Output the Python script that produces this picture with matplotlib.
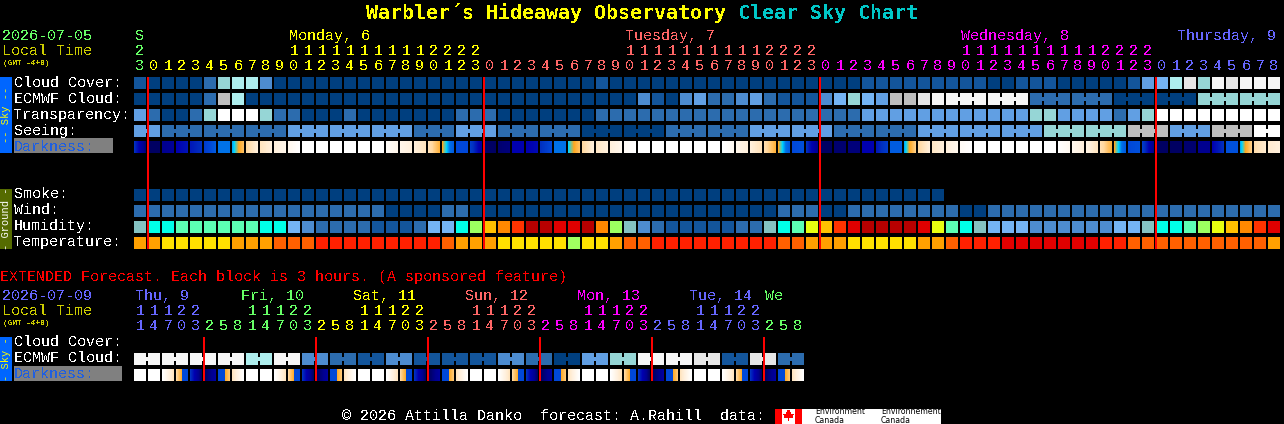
import numpy as np
import matplotlib
matplotlib.use("Agg")
import matplotlib.pyplot as plt
from matplotlib.colors import LinearSegmentedColormap

# colour levels shared by the sky rows, humidity continues the list
levels = ["#003F7F", "#13559B", "#2C6CAE", "#4D8CD0", "#619FE3", "#74B4F4", "#96D6D6", "#AEEEEE",
          "#BEBEBE", "#E6E6E6", "#F6F6F6", "#FFFFFF",
          "#84C2C2", "#00FFE8", "#5CFFB4", "#9CFF60", "#E8FF10", "#FFC000", "#FF8800", "#FF3300",
          "#E00000", "#B80000"]
temp_levels = ["#A0FF60", "#FFE000", "#FFA000", "#FF6000", "#FF2000", "#E00000"]

cloud_cover = [1,0,0,0,0,2,6,7,7,3,
               0,0,0,0,0,0,0,0,0,0,
               0,0,0,0,0,0,0,0,0,0,
               0,0,0,1,0,0,0,0,0,0,
               0,0,0,0,0,0,0,0,0,0,
               0,0,1,1,1,1,1,1,1,1,
               1,0,0,1,1,1,0,0,0,0,
               0,1,4,5,7,9,6,10,9,10,
               10,10]
ecmwf_cloud = [0,0,0,0,0,2,8,7,0,0,
               0,0,0,0,0,0,0,0,0,0,
               0,0,0,0,0,0,0,0,0,0,
               0,0,0,0,0,0,3,1,0,3,
               4,2,2,3,4,2,1,1,1,3,
               5,6,5,4,8,8,9,10,10,10,
               10,10,10,10,2,2,2,2,2,2,
               0,0,0,0,0,0,6,6,6,6,
               6,6]
transparency = [4,2,0,0,2,6,11,11,11,6,
                2,2,0,0,0,2,0,0,0,0,
                0,0,0,2,2,2,0,0,0,0,
                0,0,0,2,2,2,2,2,2,2,
                2,2,2,2,2,2,2,2,2,2,
                2,2,4,4,4,4,4,4,4,4,
                4,4,4,4,6,6,4,4,4,4,
                2,4,6,11,11,11,11,11,11,11,
                11,11]
seeing = [4,4,2,2,2,2,2,2,2,2,
          2,4,4,4,4,4,4,4,4,4,
          2,2,2,4,4,4,2,2,2,2,
          2,2,0,0,0,0,0,0,2,2,
          2,2,2,2,4,4,4,4,4,4,
          2,2,2,2,2,2,4,4,4,4,
          4,4,4,4,4,6,6,6,6,6,
          6,8,8,8,4,4,4,8,8,8,
          11,11]
dark_left = [3.0,0.3,1.0,2.0,2.5,3.5,5.0,5.3,7.0,7.5,
             8.0,8.5,9.0,9.0,9.0,9.0,9.0,9.0,8.8,8.4,
             8.0,7.4,6.0,4.0,3.5,0.4,0.5,2.0,2.0,3.0,
             5.0,5.5,7.0,7.6,8.0,8.7,9.0,9.0,9.0,9.0,
             9.0,9.0,9.0,8.4,8.0,7.2,6.0,4.0,3.0,0.3,
             0.5,0.7,2.0,2.5,4.5,5.3,7.0,7.6,8.0,8.7,
             9.0,9.0,9.0,9.0,9.0,9.0,9.0,8.5,8.2,7.3,
             6.0,4.0,3.5,0.3,0.3,0.5,1.0,2.0,4.2,5.3,
             7.2,7.8]
dark_right = [0.6,0.3,1.2,2.4,3.0,4.5,5.0,6.5,8.0,8.0,
              8.4,9.0,9.0,9.0,9.0,9.0,9.0,9.0,8.4,8.0,
              7.5,6.2,4.5,4.0,1.5,0.3,0.7,2.0,2.2,4.0,
              5.0,6.5,8.0,8.0,8.5,9.0,9.0,9.0,9.0,9.0,
              9.0,9.0,8.6,8.0,7.4,6.2,4.5,4.2,1.0,0.3,
              0.5,0.7,2.0,3.5,4.5,6.8,8.0,8.0,8.5,9.0,
              9.0,9.0,9.0,9.0,9.0,9.0,8.6,8.0,7.5,6.2,
              4.5,4.2,1.0,0.3,0.3,0.5,1.0,3.0,4.2,6.8,
              7.8,8.0]
smoke = [0,0,0,0,0,0,0,0,0,0,
         0,0,0,0,0,0,0,0,0,0,
         0,0,0,0,0,0,0,0,0,0,
         0,0,0,0,0,0,0,0,0,0,
         0,0,0,0,0,0,0,0,0,0,
         0,0,0,0,0,0,0,0]
wind = [2,2,2,2,2,2,2,2,2,2,
        2,2,2,2,2,2,2,2,0,0,
        0,0,2,2,0,0,0,0,0,0,
        0,0,0,0,0,0,0,0,0,0,
        0,0,0,0,0,0,2,2,2,0,
        0,2,2,2,2,2,2,2,2,0,
        0,2,2,2,2,2,2,2,2,2,
        2,2,2,2,2,2,2,2,2,2,
        2,2]
humidity = [12,13,13,14,14,14,14,14,14,13,
            13,5,3,2,2,2,2,1,1,1,
            2,5,5,13,15,17,18,19,21,21,
            20,20,21,18,15,12,3,2,1,1,
            1,1,1,2,2,12,13,14,16,17,
            19,20,21,21,21,21,20,16,14,13,
            12,5,5,5,3,3,3,3,3,3,
            5,5,12,13,13,14,15,16,17,18,
            19,20]
temperature = [2,2,1,1,1,1,1,2,2,2,
               3,3,3,4,4,4,4,4,4,4,
               4,4,3,2,2,2,1,1,1,1,
               1,0,1,1,2,3,3,4,4,4,
               4,4,4,4,4,4,3,3,2,2,
               2,1,1,1,1,1,2,2,3,4,
               4,4,5,5,5,5,5,5,5,4,
               4,3,3,3,3,3,3,3,3,3,
               3,2]

hours = [23] + list(range(24)) * 3 + list(range(9))
hour_colors = ["#66FF66"] + ["#FFFF00"] * 24 + ["#FF6666"] * 24 + ["#FF00FF"] * 24 + ["#6666FF"] * 9
day_labels = ["S", "Monday, 6", "Tuesday, 7", "Wednesday, 8", "Thursday, 9"]
day_x = [135, 289, 625, 961, 1177]
day_colors = ["#66FF66", "#FFFF00", "#FF6666", "#FF00FF", "#6666FF"]
midnights = [1, 25, 49, 73]

ext_ecmwf = [10,10,10,10,10,10,10,10,7,7,10,10,3,3,2,2,1,1,3,3,1,1,1,1,
             1,1,3,3,2,2,0,0,4,4,6,6,10,10,10,10,9,9,1,1,9,9,2,2]
ext_dark_left = [9,9,9,7,3,.2,4,7.5, 9,9,9,7,3,.2,4,7.5, 9,9,9,7,3,.2,4,7.5,
                 9,9,9,7,3,.2,4,7.5, 9,9,9,7,3,.2,4,7.5, 9,9,9,7,3,.2,4,7.5]
ext_dark_right = [9,9,7.5,4,.3,1.5,6.5,9, 9,9,7.5,4,.3,1.5,6.5,9, 9,9,7.5,4,.3,1.5,6.5,9,
                  9,9,7.5,4,.3,1.5,6.5,9, 9,9,7.5,4,.3,1.5,6.5,9, 9,9,7.5,4,.3,1.5,6.5,9]
ext_hours = [11,14,17,20,23,2,5,8] * 6
ext_hour_colors = (["#6666FF"] * 5 + ["#66FF66"] * 8 + ["#FFFF00"] * 8 + ["#FF6666"] * 8
                   + ["#FF00FF"] * 8 + ["#6666FF"] * 8 + ["#66FF66"] * 3)
ext_day_labels = ["Thu, 9", "Fri, 10", "Sat, 11", "Sun, 12", "Mon, 13", "Tue, 14", "We"]
ext_day_x = [135, 241, 353, 465, 577, 689, 765]
ext_day_colors = ["#6666FF", "#66FF66", "#FFFF00", "#FF6666", "#FF00FF", "#6666FF", "#66FF66"]
ext_midnights = [5, 13, 21, 29, 37, 45]

x0 = 134
pitch = 14
block = 12

dark_cmap = LinearSegmentedColormap.from_list("darkness", [
    (0 / 9, "#000050"), (1 / 9, "#000090"), (2 / 9, "#0000B0"), (3 / 9, "#0030C0"), (4 / 9, "#0048D8"),
    (5 / 9, "#0070E8"), (5.5 / 9, "#00D8FF"), (6 / 9, "#FFA820"), (7 / 9, "#FFD8A0"), (8 / 9, "#FFF0DC"),
    (9 / 9, "#FFFFFF")])
# extended blocks go straight from blue to orange
ext_cmap = LinearSegmentedColormap.from_list("darkness_ext", [
    (0 / 9, "#000050"), (1 / 9, "#000090"), (2 / 9, "#0000B0"), (3 / 9, "#0030C0"), (4 / 9, "#0048D8"),
    (5.5 / 9, "#0048D8"), (5.5 / 9, "#FFA820"), (7 / 9, "#FFD8A0"), (8 / 9, "#FFF0DC"),
    (9 / 9, "#FFFFFF")])

fig = plt.figure(figsize=(12.84, 4.24), dpi=100, facecolor="black")
ax = fig.add_axes([0, 0, 1, 1])
ax.set_facecolor("black")


def label(x, y, s, color="white", size=10.8, family="Liberation Mono", **kw):
    ax.text(x, y, s, color=color, fontsize=size, family=family, va="baseline",
            antialiased=False, **kw)


def row(values, y, colors=levels, group=None, group_from=0, group_off=0):
    xs = x0 + pitch * np.arange(len(values))
    ax.bar(xs, block, block, y, align="edge", color=[colors[v] for v in values], antialiased=False)
    if group:
        # joined blocks, small tab between them
        for i in range(group_from, len(values) - 1):
            if (i - group_off) % group != group - 1 and values[i] == values[i + 1]:
                ax.bar(xs[i] + block, 4, pitch - block, y + 4, align="edge", color=colors[values[i]],
                       antialiased=False)


def dark_row(left, right, y, cmap=dark_cmap):
    for i in range(len(left)):
        grad = np.linspace(left[i], right[i], block).reshape(1, -1)
        x = x0 + pitch * i
        ax.imshow(grad, extent=(x, x + block, y + block, y), cmap=cmap, vmin=0, vmax=9,
                  aspect="auto", interpolation="nearest", zorder=2)


def hour_labels(hrs, cols, y_tens, y_ones):
    for i, h in enumerate(hrs):
        x = x0 + pitch * i + 6
        if h >= 10:
            label(x, y_tens, str(h // 10), cols[i], ha="center")
        label(x, y_ones, str(h % 10), cols[i], ha="center")


def leaf(x, y):
    # little maple leaf for the flag
    dx = np.array([0, 1.5, 2.5, 2.5, 5, 3.5, 4, .5, .5, -.5, -.5, -4, -3.5, -5, -2.5, -2.5, -1.5])
    dy = np.array([-6, -3.5, -4, -1, -2, 0, 2, 1.5, 5, 5, 1.5, 2, 0, -2, -1, -4, -3.5])
    ax.fill(x + dx, y + dy, color="#FF0000", lw=0, antialiased=False)


# title
label(366, 19, "Warbler´s Hideaway Observatory", "#FFFF00", 14.4, "DejaVu Sans Mono", fontweight="bold")
label(738, 19, "Clear Sky Chart", "#00C8C8", 14.4, "DejaVu Sans Mono", fontweight="bold")

# main header
label(2, 40, "2026-07-05", "#66FF66")
label(2, 55, "Local Time", "#CCCC00")
label(3, 65, "(GMT -4+0)", "#CCCC00", 5.6, fontweight="bold")
for s, x, c in zip(day_labels, day_x, day_colors):
    label(x, 40, s, c)
hour_labels(hours, hour_colors, 55, 70)

# main rows
row(cloud_cover, 77)
row(ecmwf_cloud, 93, group=3, group_from=58, group_off=58)
row(transparency, 109)
row(seeing, 125, group=3, group_off=2)
dark_row(dark_left, dark_right, 141)
row(smoke, 189)
row(wind, 205)
row(humidity, 221)
row(temperature, 237, colors=temp_levels)
ax.vlines([x0 + pitch * m for m in midnights], 77, 249, color="#FF0000", lw=1.44, zorder=5)

names = ["Cloud Cover:", "ECMWF Cloud:", "Transparency:", "Seeing:"]
for s, y in zip(names, [87, 103, 119, 135]):
    label(14, y, s)
ax.bar(14, 15, 99, 138, align="edge", color="#808080", antialiased=False)
label(14, 151, "Darkness:", "#1F5FE0")
for s, y in zip(["Smoke:", "Wind:", "Humidity:", "Temperature:"], [198, 214, 230, 246]):
    label(14, y, s)

# side bars
ax.bar(0, 76, 12, 77, align="edge", color="#0066FF", antialiased=False)
ax.text(6, 115, "-- Sky --", color="#FFFF00", fontsize=7.5, family="Liberation Mono", rotation=90,
        ha="center", va="center")
ax.bar(0, 60, 12, 189, align="edge", color="#556B00", antialiased=False)
ax.text(6, 219, "- Ground -", color="white", fontsize=7.5, family="Liberation Mono", rotation=90,
        ha="center", va="center")

# extended forecast
label(0, 281, "EXTENDED Forecast. Each block is 3 hours. (A sponsored feature)", "#FF0000")
label(2, 300, "2026-07-09", "#6666FF")
label(2, 315, "Local Time", "#CCCC00")
label(3, 325, "(GMT -4+0)", "#CCCC00", 5.6, fontweight="bold")
for s, x, c in zip(ext_day_labels, ext_day_x, ext_day_colors):
    label(x, 300, s, c)
hour_labels(ext_hours, ext_hour_colors, 315, 330)
row(ext_ecmwf, 353, group=2)
dark_row(ext_dark_left, ext_dark_right, 369, ext_cmap)
ax.vlines([x0 + pitch * m for m in ext_midnights], 337, 381, color="#FF0000", lw=1.44, zorder=5)
label(14, 346, "Cloud Cover:")
label(14, 362, "ECMWF Cloud:")
ax.bar(14, 15, 108, 366, align="edge", color="#808080", antialiased=False)
label(14, 378, "Darkness:", "#1F5FE0")
ax.bar(0, 44, 12, 337, align="edge", color="#0066FF", antialiased=False)
ax.text(6, 359, "- Sky -", color="#FFFF00", fontsize=7.5, family="Liberation Mono", rotation=90,
        ha="center", va="center")

# footer and logo
label(342, 420, "© 2026 Attilla Danko  forecast: A.Rahill  data:")
ax.bar(775, 15, 166, 409, align="edge", color="white", antialiased=False)
ax.bar([775, 795], 15, 7, 409, align="edge", color="#FF0000", antialiased=False)
leaf(788.5, 416)
for x, s in [(815, "Environment"), (881, "Environnement")]:
    ax.text(x, 414, s, color="black", fontsize=5.6, family="DejaVu Sans", va="baseline")
    ax.text(x, 423, "Canada", color="black", fontsize=5.6, family="DejaVu Sans", va="baseline")

ax.set_xlim(0, 1284)
ax.set_ylim(424, 0)
ax.axis("off")
fig.savefig("out.png", dpi=100, facecolor="black")
